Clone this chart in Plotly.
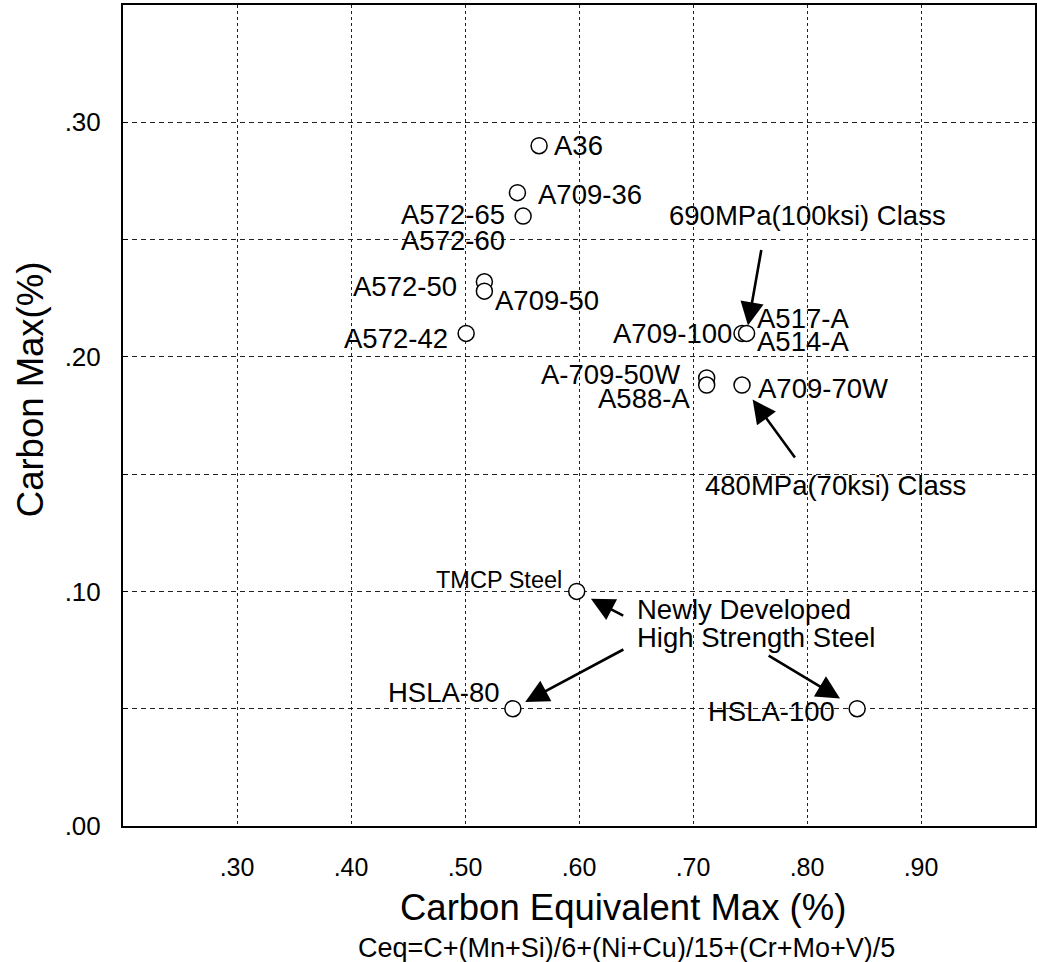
import plotly.graph_objects as go

# ---- data ----
steel_names = ["A36", "A709-36", "A572-65", "A572-50", "A709-50", "A572-42",
               "A709-100", "A517-A", "A709-50W", "A588-A", "A709-70W",
               "TMCP Steel", "HSLA-80", "HSLA-100"]
ceq_max = [0.565, 0.546, 0.551, 0.517, 0.517, 0.501,
           0.743, 0.747, 0.712, 0.712, 0.743,
           0.598, 0.542, 0.844]
carbon_max = [0.29, 0.27, 0.26, 0.232, 0.228, 0.21,
              0.21, 0.21, 0.191, 0.188, 0.188,
              0.10, 0.05, 0.05]

x_tick_vals = [0.30, 0.40, 0.50, 0.60, 0.70, 0.80, 0.90]
x_tick_text = [".30", ".40", ".50", ".60", ".70", ".80", ".90"]
y_tick_vals = [0.00, 0.05, 0.10, 0.15, 0.20, 0.25, 0.30, 0.35]
y_tick_text = [".00", "", ".10", "", ".20", "", ".30", ""]

FONT = "Liberation Sans, Arial, Helvetica, sans-serif"

fig = go.Figure()
fig.add_trace(go.Scatter(
    x=ceq_max, y=carbon_max, mode="markers", text=steel_names,
    marker=dict(symbol="circle", size=16, color="white",
                line=dict(color="black", width=1.5)),
    showlegend=False, hoverinfo="text"))

# label layout: (text, point index, xanchor, xshift px, yshift px, font size)
labels = [
    ("A36", 0, "left", 13, 0, 27.5),
    ("A709-36", 1, "left", 19, -2, 27.5),
    ("A572-65", 2, "right", -16, 2, 27.5),
    ("A572-60", 2, "right", -16, -24, 27.5),
    ("A572-50", 3, "right", -25, -5, 27.5),
    ("A709-50", 4, "left", 9, -9, 27.5),
    ("A572-42", 5, "right", -16, -5, 27.5),
    ("A709-100", 6, "right", -8, 0, 27.5),
    ("A517-A", 7, "left", 8, 15, 27.5),
    ("A514-A", 7, "left", 8, -8, 27.5),
    ("A-709-50W", 8, "right", -25, 3, 27.5),
    ("A588-A", 9, "right", -15, -13, 27.5),
    ("A709-70W", 10, "left", 14, -3, 27.5),
    ("TMCP Steel", 11, "right", -13, 11, 23.5),
    ("HSLA-80", 12, "right", -11, 16, 27.5),
    ("HSLA-100", 13, "right", -20, -3, 27.5),
    ("690MPa(100ksi) Class", 7, "left", -80, 118, 27.5),
    ("480MPa(70ksi) Class", 10, "left", -39, -100, 27.5),
    ("Newly Developed", 11, "left", 58, -18, 27.5),
    ("High Strength Steel", 11, "left", 58, -46, 27.5),
]
annotations = []
for text, i, xa, xs, ys, fs in labels:
    annotations.append(dict(
        x=ceq_max[i], y=carbon_max[i], xref="x", yref="y", text=text,
        showarrow=False, xanchor=xa, yanchor="middle", xshift=xs, yshift=ys,
        font=dict(family=FONT, size=fs, color="black")))

# arrows: (point index, tail dx px, tail dy px, standoff)
arrows = [
    (7, 15, -85, 8),
    (10, 54, 74, 18),
    (11, 48, 25, 16),
    (12, 112, -60, 14),
    (13, -90, -54, 20),
]
for i, ax, ay, so in arrows:
    annotations.append(dict(
        x=ceq_max[i], y=carbon_max[i], xref="x", yref="y", text="",
        showarrow=True, ax=ax, ay=ay, arrowhead=2, arrowsize=1.8,
        arrowwidth=2.6, arrowcolor="black", standoff=so))

# axis titles
annotations.append(dict(
    x=0.548, y=-0.099, xref="paper", yref="paper",
    text="Carbon Equivalent Max (%)", showarrow=False,
    xanchor="center", yanchor="middle",
    font=dict(family=FONT, size=36.5, color="black")))
annotations.append(dict(
    x=0.552, y=-0.149, xref="paper", yref="paper",
    text="Ceq=C+(Mn+Si)/6+(Ni+Cu)/15+(Cr+Mo+V)/5", showarrow=False,
    xanchor="center", yanchor="middle",
    font=dict(family=FONT, size=27, color="black")))
annotations.append(dict(
    x=-0.102, y=0.532, xref="paper", yref="paper",
    text="Carbon Max(%)", showarrow=False, textangle=-90,
    xanchor="center", yanchor="middle",
    font=dict(family=FONT, size=36.5, color="black")))

fig.update_layout(
    width=1037, height=962,
    margin=dict(l=123, r=2, t=5, b=136, autoexpand=False),
    paper_bgcolor="white", plot_bgcolor="white",
    font=dict(family=FONT, color="black"),
    annotations=annotations,
    xaxis=dict(range=[0.2, 1.0], tickvals=x_tick_vals, ticktext=x_tick_text,
               showline=True, mirror=True, linecolor="black", linewidth=2,
               showgrid=True, gridcolor="#222", gridwidth=1.4,
               griddash="3px,3px", zeroline=False, ticks="",
               ticklabelstandoff=18, automargin=False,
               tickfont=dict(family=FONT, size=25, color="black")),
    yaxis=dict(range=[0, 0.35], tickvals=y_tick_vals, ticktext=y_tick_text,
               showline=True, mirror=True, linecolor="black", linewidth=2,
               showgrid=True, gridcolor="#222", gridwidth=1.4,
               griddash="5px,4px", zeroline=False, ticks="inside",
               ticklen=5, tickcolor="black", ticklabelstandoff=15,
               automargin=False,
               tickfont=dict(family=FONT, size=26, color="black")),
)

fig.write_html(
    "out.html",
    config={"displayModeBar": False},
    post_script="document.body.style.margin='0';document.body.style.overflow='hidden';",
)
